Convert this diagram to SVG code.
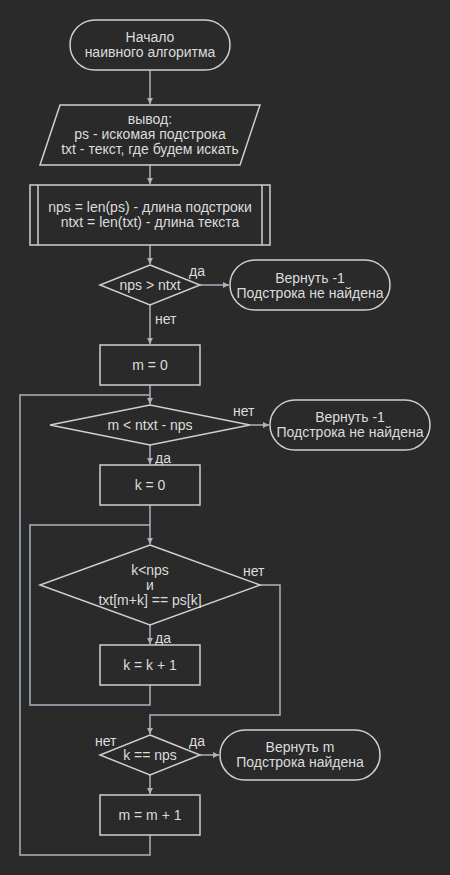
<svg xmlns="http://www.w3.org/2000/svg" width="450" height="875" viewBox="0 0 450 875">
<defs>
<style>
.s{fill:#2a2a2a;stroke:#cfcfcf;stroke-width:1.5}
.t{font-family:"Liberation Sans",Arial,sans-serif;font-size:14px;fill:#dcdcdc;text-anchor:middle;dominant-baseline:central}
.l{font-family:"Liberation Sans",Arial,sans-serif;font-size:14px;fill:#dcdcdc;dominant-baseline:central}
.c{fill:none;stroke:#aab2be;stroke-width:1.5}
</style>
<marker id="a" viewBox="0 0 6 6" refX="6" refY="3" markerWidth="4" markerHeight="4" orient="auto" markerUnits="strokeWidth">
<path d="M0,0 L6,3 L0,6 z" fill="#aab2be"/>
</marker>
</defs>
<rect width="450" height="875" fill="#2a2a2a"/>
<g id="connectors">
<path class="c" d="M150,70 V104" marker-end="url(#a)"/>
<path class="c" d="M150,165 V184" marker-end="url(#a)"/>
<path class="c" d="M150,245 V264" marker-end="url(#a)"/>
<path class="c" d="M200,285 H229" marker-end="url(#a)"/>
<path class="c" d="M150,305 V344" marker-end="url(#a)"/>
<path class="c" d="M150,385 V404" marker-end="url(#a)"/>
<path class="c" d="M250,425 H269" marker-end="url(#a)"/>
<path class="c" d="M150,445 V464" marker-end="url(#a)"/>
<path class="c" d="M150,505 V544" marker-end="url(#a)"/>
<path class="c" d="M150,625 V644" marker-end="url(#a)"/>
<path class="c" d="M150,685 V705 H30 V525 H150"/>
<path class="c" d="M260,585 H280 V715 H150 V734" marker-end="url(#a)"/>
<path class="c" d="M200,755 H219" marker-end="url(#a)"/>
<path class="c" d="M150,775 V794" marker-end="url(#a)"/>
<path class="c" d="M150,835 V855 H20 V395 H150"/>
<text class="l" x="189" y="271">да</text>
<text class="l" x="155" y="319">нет</text>
<text class="l" x="233" y="411">нет</text>
<text class="l" x="155" y="458">да</text>
<text class="l" x="243" y="571">нет</text>
<text class="l" x="155" y="638">да</text>
<text class="l" x="95" y="741">нет</text>
<text class="l" x="189" y="741">да</text>
</g>
<g id="start">
<rect class="s" x="70" y="20" width="160" height="50" rx="25"/>
<text class="t" x="150" y="37">Начало</text>
<text class="t" x="150" y="52">наивного алгоритма</text>
</g>
<g id="input">
<polygon class="s" points="60,105 260,105 240,165 40,165"/>
<text class="t" x="150" y="119">вывод:</text>
<text class="t" x="150" y="134">ps - искомая подстрока</text>
<text class="t" x="150" y="149">txt - текст, где будем искать</text>
</g>
<g id="lengths">
<rect class="s" x="30" y="185" width="240" height="60"/>
<path class="s" d="M38,185 V245 M262,185 V245"/>
<text class="t" x="150" y="207">nps = len(ps) - длина подстроки</text>
<text class="t" x="150" y="222">ntxt = len(txt) - длина текста</text>
</g>
<g id="check1">
<polygon class="s" points="150,265 200,285 150,305 100,285"/>
<text class="t" x="150" y="285">nps &gt; ntxt</text>
</g>
<g id="ret1">
<rect class="s" x="230" y="260" width="160" height="50" rx="25"/>
<text class="t" x="310" y="278">Вернуть -1</text>
<text class="t" x="310" y="293">Подстрока не найдена</text>
</g>
<g id="m0">
<rect class="s" x="100" y="345" width="100" height="40"/>
<text class="t" x="150" y="365">m = 0</text>
</g>
<g id="check2">
<polygon class="s" points="150,405 250,425 150,445 50,425"/>
<text class="t" x="150" y="425">m &lt; ntxt - nps</text>
</g>
<g id="ret2">
<rect class="s" x="270" y="400" width="160" height="50" rx="25"/>
<text class="t" x="350" y="417">Вернуть -1</text>
<text class="t" x="350" y="432">Подстрока не найдена</text>
</g>
<g id="k0">
<rect class="s" x="100" y="465" width="100" height="40"/>
<text class="t" x="150" y="485">k = 0</text>
</g>
<g id="check3">
<polygon class="s" points="150,545 260,585 150,625 40,585"/>
<text class="t" x="150" y="570">k&lt;nps</text>
<text class="t" x="150" y="585">и</text>
<text class="t" x="150" y="600">txt[m+k] == ps[k]</text>
</g>
<g id="kinc">
<rect class="s" x="100" y="645" width="100" height="40"/>
<text class="t" x="150" y="665">k = k + 1</text>
</g>
<g id="check4">
<polygon class="s" points="150,735 200,755 150,775 100,755"/>
<text class="t" x="150" y="755">k == nps</text>
</g>
<g id="ret3">
<rect class="s" x="220" y="730" width="160" height="50" rx="25"/>
<text class="t" x="300" y="747">Вернуть m</text>
<text class="t" x="300" y="762">Подстрока найдена</text>
</g>
<g id="minc">
<rect class="s" x="100" y="795" width="100" height="40"/>
<text class="t" x="150" y="815">m = m + 1</text>
</g>
</svg>
